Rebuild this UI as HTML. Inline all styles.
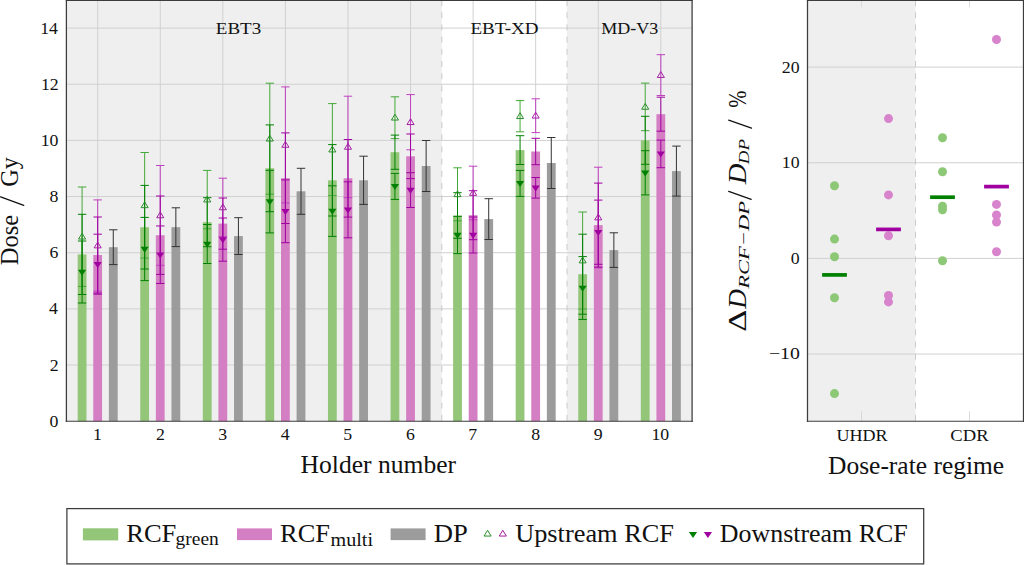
<!DOCTYPE html><html><head><meta charset="utf-8"><style>html,body{margin:0;padding:0;background:#fff;width:1024px;height:565px;overflow:hidden}svg{display:block}text{font-family:"Liberation Serif",serif;fill:#111}</style></head><body>
<svg width="1024" height="565" viewBox="0 0 1024 565">
<rect x="66.4" y="0.0" width="375.42" height="421.2" fill="#efefef"/>
<rect x="566.96" y="0.0" width="125.14" height="421.2" fill="#efefef"/>
<path d="M66.4 365.04H692.1" stroke="#d0d0d0" stroke-width="1"/>
<path d="M66.4 308.88H692.1" stroke="#d0d0d0" stroke-width="1"/>
<path d="M66.4 252.72H692.1" stroke="#d0d0d0" stroke-width="1"/>
<path d="M66.4 196.56H692.1" stroke="#d0d0d0" stroke-width="1"/>
<path d="M66.4 140.40H692.1" stroke="#d0d0d0" stroke-width="1"/>
<path d="M66.4 84.24H692.1" stroke="#d0d0d0" stroke-width="1"/>
<path d="M66.4 28.08H692.1" stroke="#d0d0d0" stroke-width="1"/>
<path d="M97.69 0.0V421.2" stroke="#d0d0d0" stroke-width="1"/>
<path d="M160.25 0.0V421.2" stroke="#d0d0d0" stroke-width="1"/>
<path d="M222.83 0.0V421.2" stroke="#d0d0d0" stroke-width="1"/>
<path d="M285.40 0.0V421.2" stroke="#d0d0d0" stroke-width="1"/>
<path d="M347.97 0.0V421.2" stroke="#d0d0d0" stroke-width="1"/>
<path d="M410.54 0.0V421.2" stroke="#d0d0d0" stroke-width="1"/>
<path d="M473.11 0.0V421.2" stroke="#d0d0d0" stroke-width="1"/>
<path d="M535.67 0.0V421.2" stroke="#d0d0d0" stroke-width="1"/>
<path d="M598.25 0.0V421.2" stroke="#d0d0d0" stroke-width="1"/>
<path d="M660.82 0.0V421.2" stroke="#d0d0d0" stroke-width="1"/>
<path d="M441.82 0.0V421.2" stroke="#bcbcbc" stroke-width="0.75" stroke-dasharray="6 6.2"/>
<path d="M566.96 0.0V421.2" stroke="#bcbcbc" stroke-width="0.75" stroke-dasharray="6 6.2"/>
<rect x="77.69" y="254.40" width="8.8" height="166.80" fill="#93c679"/>
<rect x="93.28" y="255.00" width="8.8" height="166.20" fill="#d47fc4"/>
<rect x="108.88" y="247.20" width="8.8" height="174.00" fill="#9c9c9c"/>
<rect x="140.25" y="227.20" width="8.8" height="194.00" fill="#93c679"/>
<rect x="155.85" y="235.20" width="8.8" height="186.00" fill="#d47fc4"/>
<rect x="171.45" y="227.20" width="8.8" height="194.00" fill="#9c9c9c"/>
<rect x="202.83" y="222.20" width="8.8" height="199.00" fill="#93c679"/>
<rect x="218.43" y="223.60" width="8.8" height="197.60" fill="#d47fc4"/>
<rect x="234.03" y="236.10" width="8.8" height="185.10" fill="#9c9c9c"/>
<rect x="265.40" y="168.30" width="8.8" height="252.90" fill="#93c679"/>
<rect x="281.00" y="178.20" width="8.8" height="243.00" fill="#d47fc4"/>
<rect x="296.60" y="191.30" width="8.8" height="229.90" fill="#9c9c9c"/>
<rect x="327.97" y="180.30" width="8.8" height="240.90" fill="#93c679"/>
<rect x="343.57" y="178.30" width="8.8" height="242.90" fill="#d47fc4"/>
<rect x="359.17" y="180.30" width="8.8" height="240.90" fill="#9c9c9c"/>
<rect x="390.54" y="152.20" width="8.8" height="269.00" fill="#93c679"/>
<rect x="406.14" y="156.30" width="8.8" height="264.90" fill="#d47fc4"/>
<rect x="421.74" y="166.00" width="8.8" height="255.20" fill="#9c9c9c"/>
<rect x="453.11" y="215.50" width="8.8" height="205.70" fill="#93c679"/>
<rect x="468.71" y="215.20" width="8.8" height="206.00" fill="#d47fc4"/>
<rect x="484.31" y="219.10" width="8.8" height="202.10" fill="#9c9c9c"/>
<rect x="515.67" y="150.10" width="8.8" height="271.10" fill="#93c679"/>
<rect x="531.27" y="151.50" width="8.8" height="269.70" fill="#d47fc4"/>
<rect x="546.88" y="163.00" width="8.8" height="258.20" fill="#9c9c9c"/>
<rect x="578.25" y="274.20" width="8.8" height="147.00" fill="#93c679"/>
<rect x="593.85" y="225.10" width="8.8" height="196.10" fill="#d47fc4"/>
<rect x="609.45" y="250.10" width="8.8" height="171.10" fill="#9c9c9c"/>
<rect x="640.82" y="140.30" width="8.8" height="280.90" fill="#93c679"/>
<rect x="656.42" y="114.20" width="8.8" height="307.00" fill="#d47fc4"/>
<rect x="672.02" y="171.10" width="8.8" height="250.10" fill="#9c9c9c"/>
<path d="M82.09 187.00V286.40M77.89 187.00H86.29M77.89 286.40H86.29" stroke="#44a838" stroke-width="1.0" fill="none"/>
<path d="M82.09 214.30V294.50M77.89 214.30H86.29M77.89 294.50H86.29" stroke="#008000" stroke-width="1.0" fill="none"/>
<path d="M82.09 241.00V303.00M77.89 241.00H86.29M77.89 303.00H86.29" stroke="#008000" stroke-width="1.0" fill="none"/>
<path d="M78.54 239.05L85.64 239.05L82.09 233.25Z" stroke="#2a8f2a" stroke-width="1.0" fill="none" stroke-linejoin="miter"/>
<path d="M77.99 269.70L86.19 269.70L82.09 275.70Z" fill="#008000"/>
<path d="M97.69 199.90V291.10M93.48 199.90H101.89M93.48 291.10H101.89" stroke="#c040c0" stroke-width="1.0" fill="none"/>
<path d="M97.69 217.00V293.00M93.48 217.00H101.89M93.48 293.00H101.89" stroke="#a000a0" stroke-width="1.0" fill="none"/>
<path d="M97.69 234.20V294.20M93.48 234.20H101.89M93.48 294.20H101.89" stroke="#a000a0" stroke-width="1.0" fill="none"/>
<path d="M94.14 247.85L101.23 247.85L97.69 242.05Z" stroke="#a420a4" stroke-width="1.0" fill="none" stroke-linejoin="miter"/>
<path d="M93.59 261.90L101.78 261.90L97.69 267.90Z" fill="#a000a0"/>
<path d="M113.28 229.80V264.60M109.08 229.80H117.48M109.08 264.60H117.48" stroke="#333333" stroke-width="1.0" fill="none"/>
<path d="M144.66 152.50V258.10M140.46 152.50H148.85M140.46 258.10H148.85" stroke="#44a838" stroke-width="1.0" fill="none"/>
<path d="M144.66 185.40V269.00M140.46 185.40H148.85M140.46 269.00H148.85" stroke="#008000" stroke-width="1.0" fill="none"/>
<path d="M144.66 217.40V280.60M140.46 217.40H148.85M140.46 280.60H148.85" stroke="#008000" stroke-width="1.0" fill="none"/>
<path d="M141.10 207.65L148.21 207.65L144.66 201.85Z" stroke="#2a8f2a" stroke-width="1.0" fill="none" stroke-linejoin="miter"/>
<path d="M140.56 246.70L148.75 246.70L144.66 252.70Z" fill="#008000"/>
<path d="M160.25 165.50V265.30M156.06 165.50H164.45M156.06 265.30H164.45" stroke="#c040c0" stroke-width="1.0" fill="none"/>
<path d="M160.25 196.00V274.40M156.06 196.00H164.45M156.06 274.40H164.45" stroke="#a000a0" stroke-width="1.0" fill="none"/>
<path d="M160.25 225.95V283.45M156.06 225.95H164.45M156.06 283.45H164.45" stroke="#a000a0" stroke-width="1.0" fill="none"/>
<path d="M156.70 217.75L163.81 217.75L160.25 211.95Z" stroke="#a420a4" stroke-width="1.0" fill="none" stroke-linejoin="miter"/>
<path d="M156.16 252.40L164.35 252.40L160.25 258.40Z" fill="#a000a0"/>
<path d="M175.85 207.80V246.60M171.66 207.80H180.05M171.66 246.60H180.05" stroke="#333333" stroke-width="1.0" fill="none"/>
<path d="M207.23 170.40V228.80M203.03 170.40H211.43M203.03 228.80H211.43" stroke="#44a838" stroke-width="1.0" fill="none"/>
<path d="M207.23 197.70V246.70M203.03 197.70H211.43M203.03 246.70H211.43" stroke="#008000" stroke-width="1.0" fill="none"/>
<path d="M207.23 224.50V263.50M203.03 224.50H211.43M203.03 263.50H211.43" stroke="#008000" stroke-width="1.0" fill="none"/>
<path d="M203.68 201.95L210.78 201.95L207.23 196.15Z" stroke="#2a8f2a" stroke-width="1.0" fill="none" stroke-linejoin="miter"/>
<path d="M203.13 241.70L211.33 241.70L207.23 247.70Z" fill="#008000"/>
<path d="M222.83 178.20V236.60M218.63 178.20H227.03M218.63 236.60H227.03" stroke="#c040c0" stroke-width="1.0" fill="none"/>
<path d="M222.83 198.00V249.20M218.63 198.00H227.03M218.63 249.20H227.03" stroke="#a000a0" stroke-width="1.0" fill="none"/>
<path d="M222.83 218.00V261.20M218.63 218.00H227.03M218.63 261.20H227.03" stroke="#a000a0" stroke-width="1.0" fill="none"/>
<path d="M219.28 209.75L226.38 209.75L222.83 203.95Z" stroke="#a420a4" stroke-width="1.0" fill="none" stroke-linejoin="miter"/>
<path d="M218.73 237.30L226.93 237.30L222.83 243.30Z" fill="#a000a0"/>
<path d="M238.43 217.70V254.50M234.23 217.70H242.62M234.23 254.50H242.62" stroke="#333333" stroke-width="1.0" fill="none"/>
<path d="M269.80 83.20V194.20M265.60 83.20H274.00M265.60 194.20H274.00" stroke="#44a838" stroke-width="1.0" fill="none"/>
<path d="M269.80 124.90V211.70M265.60 124.90H274.00M265.60 211.70H274.00" stroke="#008000" stroke-width="1.0" fill="none"/>
<path d="M269.80 170.30V232.90M265.60 170.30H274.00M265.60 232.90H274.00" stroke="#008000" stroke-width="1.0" fill="none"/>
<path d="M266.25 141.05L273.35 141.05L269.80 135.25Z" stroke="#2a8f2a" stroke-width="1.0" fill="none" stroke-linejoin="miter"/>
<path d="M265.69 199.30L273.90 199.30L269.80 205.30Z" fill="#008000"/>
<path d="M285.40 86.90V202.90M281.20 86.90H289.60M281.20 202.90H289.60" stroke="#c040c0" stroke-width="1.0" fill="none"/>
<path d="M285.40 132.90V223.50M281.20 132.90H289.60M281.20 223.50H289.60" stroke="#a000a0" stroke-width="1.0" fill="none"/>
<path d="M285.40 179.90V242.70M281.20 179.90H289.60M281.20 242.70H289.60" stroke="#a000a0" stroke-width="1.0" fill="none"/>
<path d="M281.85 147.25L288.95 147.25L285.40 141.45Z" stroke="#a420a4" stroke-width="1.0" fill="none" stroke-linejoin="miter"/>
<path d="M281.30 209.00L289.50 209.00L285.40 215.00Z" fill="#a000a0"/>
<path d="M301.00 168.30V214.30M296.80 168.30H305.20M296.80 214.30H305.20" stroke="#333333" stroke-width="1.0" fill="none"/>
<path d="M332.37 103.60V195.60M328.17 103.60H336.56M328.17 195.60H336.56" stroke="#44a838" stroke-width="1.0" fill="none"/>
<path d="M332.37 144.60V216.00M328.17 144.60H336.56M328.17 216.00H336.56" stroke="#008000" stroke-width="1.0" fill="none"/>
<path d="M332.37 185.80V236.40M328.17 185.80H336.56M328.17 236.40H336.56" stroke="#008000" stroke-width="1.0" fill="none"/>
<path d="M328.81 151.95L335.92 151.95L332.37 146.15Z" stroke="#2a8f2a" stroke-width="1.0" fill="none" stroke-linejoin="miter"/>
<path d="M328.26 208.80L336.47 208.80L332.37 214.80Z" fill="#008000"/>
<path d="M347.97 96.20V197.60M343.77 96.20H352.17M343.77 197.60H352.17" stroke="#c040c0" stroke-width="1.0" fill="none"/>
<path d="M347.97 139.50V217.10M343.77 139.50H352.17M343.77 217.10H352.17" stroke="#a000a0" stroke-width="1.0" fill="none"/>
<path d="M347.97 181.80V237.80M343.77 181.80H352.17M343.77 237.80H352.17" stroke="#a000a0" stroke-width="1.0" fill="none"/>
<path d="M344.42 149.25L351.52 149.25L347.97 143.45Z" stroke="#a420a4" stroke-width="1.0" fill="none" stroke-linejoin="miter"/>
<path d="M343.87 207.50L352.07 207.50L347.97 213.50Z" fill="#a000a0"/>
<path d="M363.57 156.20V204.40M359.37 156.20H367.77M359.37 204.40H367.77" stroke="#333333" stroke-width="1.0" fill="none"/>
<path d="M394.94 96.80V138.60M390.74 96.80H399.14M390.74 138.60H399.14" stroke="#44a838" stroke-width="1.0" fill="none"/>
<path d="M394.94 135.10V169.30M390.74 135.10H399.14M390.74 169.30H399.14" stroke="#008000" stroke-width="1.0" fill="none"/>
<path d="M394.94 173.40V199.40M390.74 173.40H399.14M390.74 199.40H399.14" stroke="#008000" stroke-width="1.0" fill="none"/>
<path d="M391.39 120.05L398.49 120.05L394.94 114.25Z" stroke="#2a8f2a" stroke-width="1.0" fill="none" stroke-linejoin="miter"/>
<path d="M390.84 184.10L399.04 184.10L394.94 190.10Z" fill="#008000"/>
<path d="M410.54 94.60V149.80M406.34 94.60H414.74M406.34 149.80H414.74" stroke="#c040c0" stroke-width="1.0" fill="none"/>
<path d="M410.54 134.00V178.60M406.34 134.00H414.74M406.34 178.60H414.74" stroke="#a000a0" stroke-width="1.0" fill="none"/>
<path d="M410.54 172.70V207.50M406.34 172.70H414.74M406.34 207.50H414.74" stroke="#a000a0" stroke-width="1.0" fill="none"/>
<path d="M406.99 124.55L414.09 124.55L410.54 118.75Z" stroke="#a420a4" stroke-width="1.0" fill="none" stroke-linejoin="miter"/>
<path d="M406.44 187.80L414.64 187.80L410.54 193.80Z" fill="#a000a0"/>
<path d="M426.14 140.50V191.50M421.94 140.50H430.34M421.94 191.50H430.34" stroke="#333333" stroke-width="1.0" fill="none"/>
<path d="M457.50 167.80V220.80M453.31 167.80H461.70M453.31 220.80H461.70" stroke="#44a838" stroke-width="1.0" fill="none"/>
<path d="M457.50 192.70V238.30M453.31 192.70H461.70M453.31 238.30H461.70" stroke="#008000" stroke-width="1.0" fill="none"/>
<path d="M457.50 216.40V253.60M453.31 216.40H461.70M453.31 253.60H461.70" stroke="#008000" stroke-width="1.0" fill="none"/>
<path d="M453.95 196.65L461.06 196.65L457.50 190.85Z" stroke="#2a8f2a" stroke-width="1.0" fill="none" stroke-linejoin="miter"/>
<path d="M453.40 232.70L461.61 232.70L457.50 238.70Z" fill="#008000"/>
<path d="M473.11 166.20V219.80M468.91 166.20H477.31M468.91 219.80H477.31" stroke="#c040c0" stroke-width="1.0" fill="none"/>
<path d="M473.11 190.70V239.70M468.91 190.70H477.31M468.91 239.70H477.31" stroke="#a000a0" stroke-width="1.0" fill="none"/>
<path d="M473.11 217.00V253.00M468.91 217.00H477.31M468.91 253.00H477.31" stroke="#a000a0" stroke-width="1.0" fill="none"/>
<path d="M469.56 195.35L476.66 195.35L473.11 189.55Z" stroke="#a420a4" stroke-width="1.0" fill="none" stroke-linejoin="miter"/>
<path d="M469.00 232.70L477.21 232.70L473.11 238.70Z" fill="#a000a0"/>
<path d="M488.71 198.70V239.50M484.51 198.70H492.91M484.51 239.50H492.91" stroke="#333333" stroke-width="1.0" fill="none"/>
<path d="M520.07 100.60V131.80M515.87 100.60H524.27M515.87 131.80H524.27" stroke="#44a838" stroke-width="1.0" fill="none"/>
<path d="M520.07 135.70V164.50M515.87 135.70H524.27M515.87 164.50H524.27" stroke="#008000" stroke-width="1.0" fill="none"/>
<path d="M520.07 170.40V196.40M515.87 170.40H524.27M515.87 196.40H524.27" stroke="#008000" stroke-width="1.0" fill="none"/>
<path d="M516.52 118.55L523.62 118.55L520.07 112.75Z" stroke="#2a8f2a" stroke-width="1.0" fill="none" stroke-linejoin="miter"/>
<path d="M515.97 181.10L524.17 181.10L520.07 187.10Z" fill="#008000"/>
<path d="M535.67 98.80V132.60M531.47 98.80H539.88M531.47 132.60H539.88" stroke="#c040c0" stroke-width="1.0" fill="none"/>
<path d="M535.67 138.30V164.70M531.47 138.30H539.88M531.47 164.70H539.88" stroke="#a000a0" stroke-width="1.0" fill="none"/>
<path d="M535.67 177.50V198.10M531.47 177.50H539.88M531.47 198.10H539.88" stroke="#a000a0" stroke-width="1.0" fill="none"/>
<path d="M532.12 118.05L539.22 118.05L535.67 112.25Z" stroke="#a420a4" stroke-width="1.0" fill="none" stroke-linejoin="miter"/>
<path d="M531.57 185.50L539.77 185.50L535.67 191.50Z" fill="#a000a0"/>
<path d="M551.27 137.50V188.50M547.07 137.50H555.48M547.07 188.50H555.48" stroke="#333333" stroke-width="1.0" fill="none"/>
<path d="M582.64 212.00V309.00M578.44 212.00H586.85M578.44 309.00H586.85" stroke="#44a838" stroke-width="1.0" fill="none"/>
<path d="M582.64 234.20V314.20M578.44 234.20H586.85M578.44 314.20H586.85" stroke="#008000" stroke-width="1.0" fill="none"/>
<path d="M582.64 256.60V319.40M578.44 256.60H586.85M578.44 319.40H586.85" stroke="#008000" stroke-width="1.0" fill="none"/>
<path d="M579.10 262.85L586.19 262.85L582.64 257.05Z" stroke="#2a8f2a" stroke-width="1.0" fill="none" stroke-linejoin="miter"/>
<path d="M578.54 285.70L586.75 285.70L582.64 291.70Z" fill="#008000"/>
<path d="M598.25 167.20V267.80M594.04 167.20H602.45M594.04 267.80H602.45" stroke="#c040c0" stroke-width="1.0" fill="none"/>
<path d="M598.25 183.10V267.10M594.04 183.10H602.45M594.04 267.10H602.45" stroke="#a000a0" stroke-width="1.0" fill="none"/>
<path d="M598.25 200.10V264.30M594.04 200.10H602.45M594.04 264.30H602.45" stroke="#a000a0" stroke-width="1.0" fill="none"/>
<path d="M594.70 219.85L601.79 219.85L598.25 214.05Z" stroke="#a420a4" stroke-width="1.0" fill="none" stroke-linejoin="miter"/>
<path d="M594.14 229.90L602.35 229.90L598.25 235.90Z" fill="#a000a0"/>
<path d="M613.85 232.80V267.40M609.64 232.80H618.05M609.64 267.40H618.05" stroke="#333333" stroke-width="1.0" fill="none"/>
<path d="M645.22 83.10V130.70M641.01 83.10H649.42M641.01 130.70H649.42" stroke="#44a838" stroke-width="1.0" fill="none"/>
<path d="M645.22 116.30V164.30M641.01 116.30H649.42M641.01 164.30H649.42" stroke="#008000" stroke-width="1.0" fill="none"/>
<path d="M645.22 150.70V194.90M641.01 150.70H649.42M641.01 194.90H649.42" stroke="#008000" stroke-width="1.0" fill="none"/>
<path d="M641.67 109.25L648.76 109.25L645.22 103.45Z" stroke="#2a8f2a" stroke-width="1.0" fill="none" stroke-linejoin="miter"/>
<path d="M641.12 170.50L649.32 170.50L645.22 176.50Z" fill="#008000"/>
<path d="M660.82 54.70V95.50M656.62 54.70H665.02M656.62 95.50H665.02" stroke="#c040c0" stroke-width="1.0" fill="none"/>
<path d="M660.82 97.20V131.20M656.62 97.20H665.02M656.62 131.20H665.02" stroke="#a000a0" stroke-width="1.0" fill="none"/>
<path d="M660.82 140.10V167.70M656.62 140.10H665.02M656.62 167.70H665.02" stroke="#a000a0" stroke-width="1.0" fill="none"/>
<path d="M657.27 77.45L664.37 77.45L660.82 71.65Z" stroke="#a420a4" stroke-width="1.0" fill="none" stroke-linejoin="miter"/>
<path d="M656.72 151.60L664.92 151.60L660.82 157.60Z" fill="#a000a0"/>
<path d="M676.42 146.10V196.10M672.22 146.10H680.62M672.22 196.10H680.62" stroke="#333333" stroke-width="1.0" fill="none"/>
<path d="M66.4 0V421.9M692.1 0V421.9" stroke="#3c3c3c" stroke-width="1.25" fill="none"/>
<path d="M65.80000000000001 0.5H692.7M65.80000000000001 421.2H692.7" stroke="#3c3c3c" stroke-width="1.05" fill="none"/>
<rect x="807.5" y="0.0" width="108.00" height="421.2" fill="#efefef"/>
<path d="M807.5 354.05H1023.5" stroke="#d0d0d0" stroke-width="1"/>
<path d="M807.5 258.40H1023.5" stroke="#d0d0d0" stroke-width="1"/>
<path d="M807.5 162.75H1023.5" stroke="#d0d0d0" stroke-width="1"/>
<path d="M807.5 67.10H1023.5" stroke="#d0d0d0" stroke-width="1"/>
<path d="M861.50 0.0V7.5M861.50 411.2V421.2" stroke="#d4d4d4" stroke-width="0.8"/>
<path d="M969.50 0.0V7.5M969.50 411.2V421.2" stroke="#d4d4d4" stroke-width="0.8"/>
<path d="M915.50 0.0V421.2" stroke="#bcbcbc" stroke-width="0.75" stroke-dasharray="6 6.2"/>
<circle cx="834.50" cy="185.70" r="4.5" fill="#8dc877"/>
<circle cx="834.50" cy="239.10" r="4.5" fill="#8dc877"/>
<circle cx="834.50" cy="256.80" r="4.5" fill="#8dc877"/>
<circle cx="834.50" cy="297.80" r="4.5" fill="#8dc877"/>
<circle cx="834.50" cy="393.60" r="4.5" fill="#8dc877"/>
<circle cx="888.50" cy="118.60" r="4.5" fill="#d884cc"/>
<circle cx="888.50" cy="194.90" r="4.5" fill="#d884cc"/>
<circle cx="888.50" cy="235.80" r="4.5" fill="#d884cc"/>
<circle cx="888.50" cy="295.50" r="4.5" fill="#d884cc"/>
<circle cx="888.50" cy="301.90" r="4.5" fill="#d884cc"/>
<circle cx="942.50" cy="137.80" r="4.5" fill="#8dc877"/>
<circle cx="942.50" cy="171.70" r="4.5" fill="#8dc877"/>
<circle cx="942.50" cy="206.20" r="4.5" fill="#8dc877"/>
<circle cx="942.50" cy="209.70" r="4.5" fill="#8dc877"/>
<circle cx="942.50" cy="260.80" r="4.5" fill="#8dc877"/>
<circle cx="996.50" cy="39.50" r="4.5" fill="#d884cc"/>
<circle cx="996.50" cy="204.40" r="4.5" fill="#d884cc"/>
<circle cx="996.50" cy="215.00" r="4.5" fill="#d884cc"/>
<circle cx="996.50" cy="222.10" r="4.5" fill="#d884cc"/>
<circle cx="996.50" cy="251.80" r="4.5" fill="#d884cc"/>
<rect x="822.10" y="273.05" width="24.8" height="3.7" fill="#008000"/>
<rect x="876.10" y="227.55" width="24.8" height="3.7" fill="#a000a0"/>
<rect x="930.10" y="195.35" width="24.8" height="3.7" fill="#008000"/>
<rect x="984.10" y="184.75" width="24.8" height="3.7" fill="#a000a0"/>
<path d="M807.5 0V421.9M1023.5 0V421.9" stroke="#3c3c3c" stroke-width="1.25" fill="none"/>
<path d="M806.9 0.5H1024.1M806.9 421.2H1024.1" stroke="#3c3c3c" stroke-width="1.05" fill="none"/>
<text x="49.62" y="426.80" font-size="17.1" textLength="8.89" lengthAdjust="spacingAndGlyphs">0</text>
<text x="49.80" y="370.64" font-size="17.1" textLength="8.89" lengthAdjust="spacingAndGlyphs">2</text>
<text x="49.09" y="314.48" font-size="17.1" textLength="8.89" lengthAdjust="spacingAndGlyphs">4</text>
<text x="49.44" y="258.32" font-size="17.1" textLength="8.89" lengthAdjust="spacingAndGlyphs">6</text>
<text x="49.62" y="202.16" font-size="17.1" textLength="8.89" lengthAdjust="spacingAndGlyphs">8</text>
<text x="40.73" y="146.00" font-size="17.1" textLength="17.78" lengthAdjust="spacingAndGlyphs">10</text>
<text x="40.91" y="89.84" font-size="17.1" textLength="17.78" lengthAdjust="spacingAndGlyphs">12</text>
<text x="40.19" y="33.68" font-size="17.1" textLength="17.78" lengthAdjust="spacingAndGlyphs">14</text>
<text x="92.97" y="439.80" font-size="17.1" textLength="8.89" lengthAdjust="spacingAndGlyphs">1</text>
<text x="155.90" y="439.80" font-size="17.1" textLength="8.89" lengthAdjust="spacingAndGlyphs">2</text>
<text x="218.29" y="439.80" font-size="17.1" textLength="8.89" lengthAdjust="spacingAndGlyphs">3</text>
<text x="280.86" y="439.80" font-size="17.1" textLength="8.89" lengthAdjust="spacingAndGlyphs">4</text>
<text x="343.34" y="439.80" font-size="17.1" textLength="8.89" lengthAdjust="spacingAndGlyphs">5</text>
<text x="406.00" y="439.80" font-size="17.1" textLength="8.89" lengthAdjust="spacingAndGlyphs">6</text>
<text x="468.39" y="439.80" font-size="17.1" textLength="8.89" lengthAdjust="spacingAndGlyphs">7</text>
<text x="531.23" y="439.80" font-size="17.1" textLength="8.89" lengthAdjust="spacingAndGlyphs">8</text>
<text x="593.89" y="439.80" font-size="17.1" textLength="8.89" lengthAdjust="spacingAndGlyphs">9</text>
<text x="651.48" y="439.80" font-size="17.1" textLength="17.78" lengthAdjust="spacingAndGlyphs">10</text>
<text x="781.83" y="72.70" font-size="17.1" textLength="17.78" lengthAdjust="spacingAndGlyphs">20</text>
<text x="781.83" y="168.35" font-size="17.1" textLength="17.78" lengthAdjust="spacingAndGlyphs">10</text>
<text x="790.72" y="264.00" font-size="17.1" textLength="8.89" lengthAdjust="spacingAndGlyphs">0</text>
<text x="768.91" y="359.00" font-size="17.1" textLength="30.96" lengthAdjust="spacingAndGlyphs">−10</text>
<text x="215.83" y="33.80" font-size="16.0" textLength="45.40" lengthAdjust="spacingAndGlyphs">EBT3</text>
<text x="470.43" y="33.80" font-size="16.0" textLength="68.11" lengthAdjust="spacingAndGlyphs">EBT-XD</text>
<text x="601.16" y="33.80" font-size="16.0" textLength="57.00" lengthAdjust="spacingAndGlyphs">MD-V3</text>
<text x="836.44" y="441.30" font-size="16.6" textLength="51.15" lengthAdjust="spacingAndGlyphs">UHDR</text>
<text x="950.36" y="441.30" font-size="16.6" textLength="38.27" lengthAdjust="spacingAndGlyphs">CDR</text>
<text x="300.63" y="473.40" font-size="25.3" textLength="155.51" lengthAdjust="spacingAndGlyphs">Holder number</text>
<text x="828.04" y="473.90" font-size="25.3" textLength="176.11" lengthAdjust="spacingAndGlyphs">Dose-rate regime</text>
<g transform="translate(17.7 264.5) rotate(-90)">
<text x="-0.73" y="0.00" font-size="24.2" textLength="50.30" lengthAdjust="spacingAndGlyphs">Dose</text>
<text x="77.83" y="0.00" font-size="24.2" textLength="29.52" lengthAdjust="spacingAndGlyphs">Gy</text>
</g>
<g transform="translate(746 330.4) rotate(-90)">
<text x="-1.37" y="0.00" font-size="24.2" textLength="22.00" lengthAdjust="spacingAndGlyphs">Δ</text>
<text x="21.67" y="0.00" font-size="24.2" textLength="19.56" lengthAdjust="spacingAndGlyphs" font-style="italic">D</text>
<text x="41.73" y="3.00" font-size="15.6" textLength="87.74" lengthAdjust="spacingAndGlyphs" font-style="italic">RCF−DP</text>
<text x="146.09" y="0.00" font-size="24.2" textLength="20.66" lengthAdjust="spacingAndGlyphs" font-style="italic">D</text>
<text x="166.19" y="3.00" font-size="15.6" textLength="25.14" lengthAdjust="spacingAndGlyphs" font-style="italic">DP</text>
<text x="222.78" y="0.00" font-size="24.2" textLength="17.09" lengthAdjust="spacingAndGlyphs">%</text>
</g>
<path d="M0.6 196.8L23.8 205.3" stroke="#111" stroke-width="1.25" stroke-linecap="round"/>
<path d="M728.7 191.3L751.2 199.4" stroke="#111" stroke-width="1.25" stroke-linecap="round"/>
<path d="M728.7 120.2L751.5 128.2" stroke="#111" stroke-width="1.25" stroke-linecap="round"/>
<rect x="66.9" y="508.6" width="856.8" height="55.3" fill="#fff" stroke="#3c3c3c" stroke-width="1.25"/>
<rect x="82.9" y="528.3" width="35.3" height="12.1" fill="#93c679"/>
<rect x="237" y="528.4" width="35" height="11.7" fill="#d47fc4"/>
<rect x="390.6" y="528.4" width="35" height="11.7" fill="#9c9c9c"/>
<text x="126.20" y="541.60" font-size="25.7" textLength="50.16" lengthAdjust="spacingAndGlyphs">RCF</text>
<text x="175.62" y="545.30" font-size="18.8" textLength="43.19" lengthAdjust="spacingAndGlyphs">green</text>
<text x="280.11" y="541.60" font-size="25.7" textLength="49.85" lengthAdjust="spacingAndGlyphs">RCF</text>
<text x="330.50" y="545.60" font-size="18.8" textLength="42.53" lengthAdjust="spacingAndGlyphs">multi</text>
<text x="433.70" y="541.60" font-size="25.7" textLength="34.02" lengthAdjust="spacingAndGlyphs">DP</text>
<text x="515.17" y="541.60" font-size="25.7" textLength="158.83" lengthAdjust="spacingAndGlyphs">Upstream RCF</text>
<text x="719.82" y="541.60" font-size="25.7" textLength="187.82" lengthAdjust="spacingAndGlyphs">Downstream RCF</text>
<path d="M484.05 536.05L491.15 536.05L487.60 530.25Z" stroke="#2a8f2a" stroke-width="1.0" fill="none" stroke-linejoin="miter"/>
<path d="M499.25 536.05L506.35 536.05L502.80 530.25Z" stroke="#a420a4" stroke-width="1.0" fill="none" stroke-linejoin="miter"/>
<path d="M688.90 532.10L697.10 532.10L693.00 538.10Z" fill="#008000"/>
<path d="M703.80 532.10L712.00 532.10L707.90 538.10Z" fill="#a000a0"/>
</svg></body></html>
